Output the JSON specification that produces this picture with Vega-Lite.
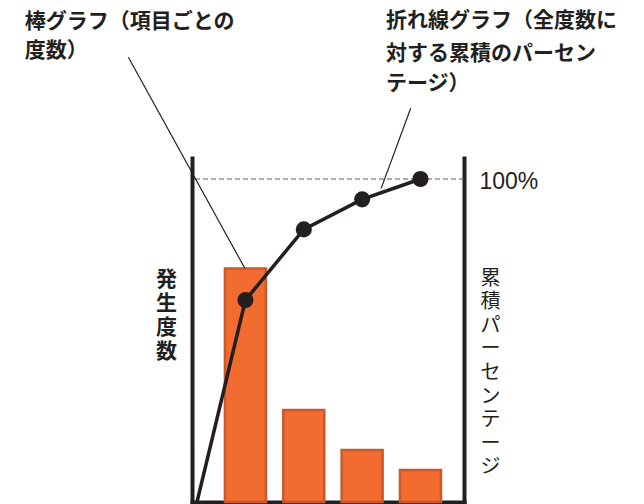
{
  "$schema": "https://vega.github.io/schema/vega-lite/v6.json",
  "width": 272,
  "height": 344,
  "autosize": {"type": "none"},
  "padding": {"left": 192, "top": 158, "right": 180, "bottom": 2},
  "background": "white",
  "config": {
    "view": {"stroke": null},
    "font": "Noto Sans CJK JP",
    "axis": {"domainColor": "#231f20", "domainWidth": 4, "domainCap": "square", "ticks": false, "grid": false, "labels": false, "zindex": 1}
  },
  "datasets": {
    "bars": [
      {"item": 1, "count": 58.4},
      {"item": 2, "count": 23},
      {"item": 3, "count": 13},
      {"item": 4, "count": 8}
    ],
    "cumulative": [
      {"item": 0.17, "pct": 0},
      {"item": 1, "pct": 62.5},
      {"item": 2, "pct": 84.4},
      {"item": 3, "pct": 93.7},
      {"item": 4, "pct": 100}
    ],
    "reference": [
      {"pct": 100}
    ],
    "leaders": [
      {"x": -1.006, "y": 137.7, "x2": 0.99, "y2": 72.35},
      {"x": 3.832, "y": 121.9, "x2": 3.326, "y2": 97.1}
    ],
    "notes": [
      {"text": "棒グラフ（項目ごとの", "x": -2.783, "y": 152.0},
      {"text": "度数）", "x": -2.783, "y": 143.0},
      {"text": "折れ線グラフ（全度数に", "x": 3.408, "y": 152.3},
      {"text": "対する累積のパーセン", "x": 3.408, "y": 142.2},
      {"text": "テージ）", "x": 3.408, "y": 132.7}
    ]
  },
  "layer": [
    {
      "data": {"name": "bars"},
      "mark": {"type": "bar", "size": 41, "fill": "#f26b2f", "stroke": "#c9592b", "strokeWidth": 2.5},
      "encoding": {
        "x": {"field": "item", "type": "quantitative", "scale": {"domain": [0.17, 4.66], "nice": false, "zero": false}, "axis": {"title": null, "orient": "bottom"}},
        "y": {
          "field": "count", "type": "quantitative",
          "scale": {"domain": [0, 86], "nice": false},
          "axis": {"orient": "left", "title": ["発", "生", "度", "数"], "titleAngle": 0, "titleX": -26, "titleY": 110, "titleAlign": "center", "titleBaseline": "top", "titleFontSize": 21, "titleFontWeight": "bold", "titleLineHeight": 24, "titleColor": "#231f20", "titleFont": "Noto Sans CJK JP"}
        }
      }
    },
    {
      "layer": [
        {
          "data": {"name": "cumulative"},
          "mark": {"type": "line", "color": "#231f20", "strokeWidth": 3.5},
          "encoding": {
            "x": {"field": "item", "type": "quantitative", "title": null},
            "y": {
              "field": "pct", "type": "quantitative",
              "scale": {"domain": [0, 106.5], "nice": false},
              "axis": {"orient": "right", "values": [100], "labels": true, "labelExpr": "'100%'", "labelFontSize": 23, "labelFont": "Liberation Sans", "labelPadding": 15, "labelColor": "#231f20", "labelBaseline": "middle", "labelAlign": "left", "labelOffset": 3,
                "title": ["累", "積", "パ", "ー", "セ", "ン", "テ", "ー", "ジ"], "titleAngle": 0, "titleX": 26, "titleY": 110, "titleAlign": "center", "titleBaseline": "top", "titleFontSize": 20, "titleFontWeight": "normal", "titleLineHeight": 23.6, "titleColor": "#231f20", "titleFont": "Noto Sans CJK JP"}
            }
          }
        },
        {
          "data": {"name": "reference"},
          "mark": {"type": "rule", "strokeDash": [5, 3], "color": "#5a5a5a", "strokeWidth": 1.2},
          "encoding": {
            "y": {"field": "pct", "type": "quantitative"}
          }
        },
        {
          "data": {"name": "leaders"},
          "mark": {"type": "rule", "color": "#231f20", "strokeWidth": 1.2},
          "encoding": {
            "x": {"field": "x", "type": "quantitative", "title": null},
            "y": {"field": "y", "type": "quantitative"},
            "x2": {"field": "x2"},
            "y2": {"field": "y2"}
          }
        },
        {
          "data": {"name": "cumulative"},
          "transform": [{"filter": "datum.pct > 0"}],
          "mark": {"type": "circle", "size": 260, "color": "#231f20", "opacity": 1},
          "encoding": {
            "x": {"field": "item", "type": "quantitative", "title": null},
            "y": {"field": "pct", "type": "quantitative"}
          }
        },
        {
          "data": {"name": "notes"},
          "mark": {"type": "text", "align": "left", "baseline": "top", "fontSize": 21, "fontWeight": "bold", "color": "#231f20", "font": "Noto Sans CJK JP"},
          "encoding": {
            "x": {"field": "x", "type": "quantitative", "title": null},
            "y": {"field": "y", "type": "quantitative"},
            "text": {"field": "text"}
          }
        }
      ]
    }
  ],
  "resolve": {"scale": {"y": "independent"}, "axis": {"y": "independent"}}
}
